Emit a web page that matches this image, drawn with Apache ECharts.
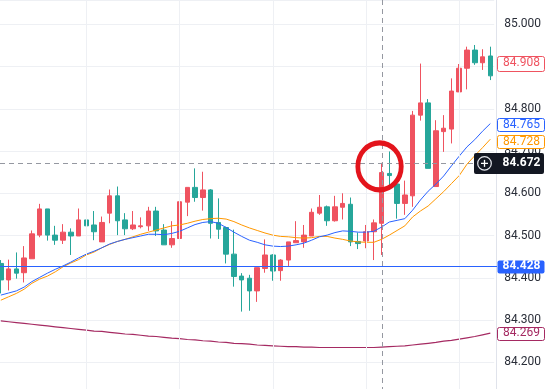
<!DOCTYPE html>
<html>
<head>
<meta charset="utf-8">
<script src="https://cdn.jsdelivr.net/npm/echarts/dist/echarts.min.js"></script>
<style>html,body{margin:0;padding:0;background:#ffffff;}#c{width:550px;height:389px;}</style>
</head>
<body>
<div id="c"></div>
<script>
// ---- data ----
const bars = ['1','2','3','4','5','6','7','8','9','10','11','12','13','14','15','16',
  '17','18','19','20','21','22','23','24','25','26','27','28','29','30','31','32',
  '33','34','35','36','37','38','39','40','41','42','43','44','45','46','47','48',
  '49','50','51','52','53','54','55','56','57','58','59','60','61','62','63','64'];
const open = [84.434,84.395,84.421,84.412,84.445,84.501,84.563,84.501,84.489,84.508,84.499,84.537,84.525,84.485,84.553,84.594,
  84.537,84.516,84.521,84.523,84.558,84.513,84.478,84.493,84.579,84.614,84.590,84.608,84.531,84.519,84.456,84.404,
  84.399,84.369,84.422,84.454,84.417,84.442,84.483,84.485,84.499,84.553,84.568,84.535,84.567,84.574,84.486,84.487,
  84.509,84.529,84.647,84.622,84.576,84.594,84.785,84.814,84.616,84.746,84.752,84.840,84.896,84.939,84.909,84.925];
const close = [84.395,84.421,84.411,84.447,84.504,84.563,84.501,84.489,84.508,84.499,84.537,84.523,84.509,84.531,84.594,84.535,
  84.516,84.525,84.523,84.558,84.511,84.478,84.493,84.580,84.614,84.590,84.608,84.529,84.515,84.456,84.403,84.395,
  84.369,84.424,84.454,84.416,84.442,84.485,84.488,84.501,84.555,84.567,84.535,84.568,84.576,84.485,84.481,84.509,
  84.530,84.649,84.642,84.576,84.596,84.785,84.814,84.659,84.748,84.754,84.842,84.896,84.939,84.909,84.923,84.878];
const low = [84.363,84.370,84.398,84.389,84.445,84.496,84.488,84.478,84.480,84.454,84.499,84.500,84.489,84.485,84.529,84.501,
  84.501,84.513,84.517,84.511,84.499,84.478,84.471,84.436,84.546,84.580,84.559,84.493,84.492,84.434,84.379,84.320,
  84.322,84.343,84.412,84.393,84.393,84.428,84.483,84.471,84.499,84.549,84.523,84.533,84.538,84.475,84.468,84.470,
  84.442,84.454,84.616,84.540,84.549,84.568,84.772,84.659,84.616,84.698,84.718,84.840,84.846,84.904,84.892,84.868];
const high = [84.442,84.443,84.460,84.475,84.512,84.575,84.563,84.523,84.527,84.517,84.564,84.555,84.558,84.545,84.609,84.616,
  84.553,84.558,84.543,84.568,84.568,84.527,84.534,84.596,84.614,84.659,84.651,84.610,84.588,84.521,84.514,84.411,
  84.407,84.424,84.491,84.456,84.444,84.485,84.534,84.525,84.564,84.596,84.571,84.594,84.600,84.590,84.507,84.525,
  84.538,84.672,84.699,84.630,84.630,84.795,84.907,84.823,84.773,84.785,84.872,84.906,84.947,84.951,84.941,84.947];
const maBlue = [84.359,84.364,84.369,84.378,84.391,84.401,84.411,84.420,84.428,84.437,84.447,84.456,84.463,84.471,84.480,84.486,
  84.491,84.495,84.499,84.503,84.503,84.502,84.505,84.510,84.518,84.526,84.531,84.533,84.529,84.519,84.508,84.498,
  84.489,84.484,84.478,84.475,84.474,84.475,84.478,84.482,84.489,84.497,84.501,84.507,84.511,84.510,84.508,84.508,
  84.510,84.520,84.532,84.536,84.540,84.560,84.584,84.605,84.622,84.641,84.665,84.688,84.710,84.727,84.747,84.765];
const maOrange = [84.347,84.355,84.363,84.373,84.387,84.397,84.404,84.414,84.426,84.435,84.443,84.454,84.461,84.471,84.479,84.486,
  84.491,84.497,84.503,84.508,84.513,84.518,84.523,84.525,84.529,84.534,84.538,84.540,84.541,84.539,84.533,84.525,
  84.518,84.512,84.506,84.501,84.498,84.497,84.495,84.494,84.495,84.498,84.498,84.494,84.491,84.487,84.485,84.484,
  84.484,84.491,84.501,84.512,84.523,84.544,84.558,84.570,84.587,84.604,84.623,84.642,84.669,84.689,84.708,84.728];
const maLong = [84.298,84.296,84.294,84.292,84.290,84.288,84.286,84.284,84.282,84.280,84.278,84.276,84.274,84.273,84.271,84.269,
  84.267,84.266,84.264,84.262,84.261,84.259,84.257,84.256,84.254,84.253,84.251,84.250,84.248,84.247,84.245,84.244,
  84.243,84.241,84.240,84.239,84.238,84.237,84.237,84.236,84.236,84.235,84.235,84.235,84.235,84.235,84.235,84.235,
  84.235,84.236,84.237,84.238,84.239,84.241,84.243,84.245,84.247,84.250,84.252,84.255,84.258,84.261,84.265,84.269];
const lastPrice = 84.908;
const levelPrice = 84.428;
const crossPrice = 84.672;
const crossBar = '50';
const gridBars = ['12','24','36','48','60'];
const priceMin = 84.1368, priceMax = 85.0575;

// ---- styles ----
const UP = '#ef5360', DOWN = '#26a69a';
const BLUE = '#2962ff', ORANGE = '#ff9800', MAROON = '#a52a62';
const LEVEL = '#2962ff';
const FONT = 'Roboto, "Noto Sans", sans-serif';

const chart = echarts.init(document.getElementById('c'), null, {renderer: 'canvas'});
const candles = bars.map((b, i) => [open[i], close[i], low[i], high[i]]);

chart.setOption({
  animation: false,
  backgroundColor: '#ffffff',
  grid: {left: -3.05, right: 55.8, top: 0, bottom: 0, containLabel: false, outerBoundsMode: 'none'},
  xAxis: {
    type: 'category', data: bars, boundaryGap: true,
    axisLine: {show: false}, axisTick: {show: false}, axisLabel: {show: false}, splitLine: {show: false}
  },
  yAxis: {
    type: 'value', position: 'right', min: priceMin, max: priceMax, splitNumber: 9,
    axisLine: {show: false}, axisTick: {show: false},
    splitLine: {lineStyle: {color: '#eef0f4', width: 1}},
    axisLabel: {margin: 10, color: '#2a2e39', fontFamily: FONT, fontSize: 12,
      showMinLabel: false, showMaxLabel: false,
      formatter: v => v.toFixed(3)}
  },
  series: [
    {
      type: 'line', data: [], z: 0, silent: true,
      markLine: {
        silent: true, symbol: ['none', 'none'], label: {show: false},
        lineStyle: {color: '#eef0f4', type: 'solid', width: 1},
        data: gridBars.map(b => ({xAxis: b}))
      }
    },
    {
      type: 'candlestick', data: candles, barWidth: 5, z: 2,
      itemStyle: {color: UP, color0: DOWN, borderColor: UP, borderColor0: DOWN, borderWidth: 1}
    },
    {type: 'line', data: maLong, symbol: 'none', z: 3, lineStyle: {color: MAROON, width: 1.2}},
    {type: 'line', data: maOrange, symbol: 'none', z: 3, lineStyle: {color: ORANGE, width: 1}},
    {type: 'line', data: maBlue, symbol: 'none', z: 3, lineStyle: {color: BLUE, width: 1}}
  ]
});

// ---- overlays (level line, crosshair, price labels, annotation) ----
const yPx = v => chart.convertToPixel({yAxisIndex: 0}, v);
const xCross = chart.convertToPixel({xAxisIndex: 0}, crossBar);
const yCross = yPx(crossPrice);
const yLevel = Math.round(yPx(levelPrice)) + 0.5;
const LX = 497, LW = 47, TX = LX + LW / 2 + 1;

function priceBox(v, text, opt) {
  const h = opt.h || 14;
  const yc = yPx(v) + (opt.dy || 0);
  return [
    {type: 'rect', z: 100, shape: {x: LX + 0.5, y: Math.round(yc - h / 2) + 0.5, width: LW, height: h, r: 2},
      style: {fill: opt.fill || '#ffffff', stroke: opt.stroke || null, lineWidth: 1}},
    {type: 'text', z: 101, x: TX, y: yc,
      style: {text: text, fill: opt.color, font: (opt.bold ? 'bold ' : '') + '12px ' + FONT,
        textAlign: 'center', textVerticalAlign: 'middle'}}
  ];
}

const graphics = [
  {type: 'line', z: 50, shape: {x1: 496.5, y1: 0, x2: 496.5, y2: 389}, style: {stroke: '#e0e3eb', lineWidth: 1}},
  {type: 'line', z: 55, shape: {x1: 0, y1: yLevel, x2: 497, y2: yLevel}, style: {stroke: LEVEL, lineWidth: 1}},
  {type: 'line', z: 60, shape: {x1: Math.round(xCross) + 0.5, y1: 0, x2: Math.round(xCross) + 0.5, y2: 389},
    style: {stroke: '#9598a1', lineWidth: 1, lineDash: [5, 4]}},
  {type: 'line', z: 60, shape: {x1: 0, y1: Math.round(yCross) + 0.5, x2: 474, y2: Math.round(yCross) + 0.5},
    style: {stroke: '#9598a1', lineWidth: 1, lineDash: [5, 4]}},
  {type: 'circle', z: 90, x: xCross - 2, y: yCross + 3.5, scaleY: 1.083, shape: {cx: 0, cy: 0, r: 21.7},
    style: {fill: 'none', stroke: '#e3141c', lineWidth: 4.8}},
  ...priceBox(lastPrice, lastPrice.toFixed(3), {stroke: UP, color: UP, h: 15}),
  ...priceBox(maBlue[maBlue.length - 1], maBlue[maBlue.length - 1].toFixed(3), {stroke: BLUE, color: BLUE, dy: 1.4, h: 13}),
  ...priceBox(maOrange[maOrange.length - 1], maOrange[maOrange.length - 1].toFixed(3), {stroke: ORANGE, color: ORANGE, dy: 2.4, h: 13}),
  ...priceBox(maLong[maLong.length - 1], maLong[maLong.length - 1].toFixed(3), {stroke: MAROON, color: MAROON, h: 13}),
  ...priceBox(levelPrice, levelPrice.toFixed(3), {fill: LEVEL, color: '#ffffff', bold: true, dy: 0.5, h: 13}),
  {type: 'rect', z: 110, shape: {x: 474, y: Math.round(yCross) - 10, width: 70, height: 21, r: 2}, style: {fill: '#131722'}},
  {type: 'circle', z: 111, shape: {cx: 484.5, cy: yCross + 0.5, r: 6.8}, style: {fill: 'none', stroke: '#e6e8ee', lineWidth: 1.2}},
  {type: 'line', z: 111, shape: {x1: 481, y1: yCross + 0.5, x2: 488, y2: yCross + 0.5}, style: {stroke: '#ffffff', lineWidth: 1.3}},
  {type: 'line', z: 111, shape: {x1: 484.5, y1: yCross - 3, x2: 484.5, y2: yCross + 4}, style: {stroke: '#ffffff', lineWidth: 1.3}},
  {type: 'text', z: 111, x: TX, y: yCross + 0.5,
    style: {text: crossPrice.toFixed(3), fill: '#ffffff', font: 'bold 12px ' + FONT, textAlign: 'center', textVerticalAlign: 'middle'}}
];

chart.setOption({graphic: graphics});
</script>
</body>
</html>
